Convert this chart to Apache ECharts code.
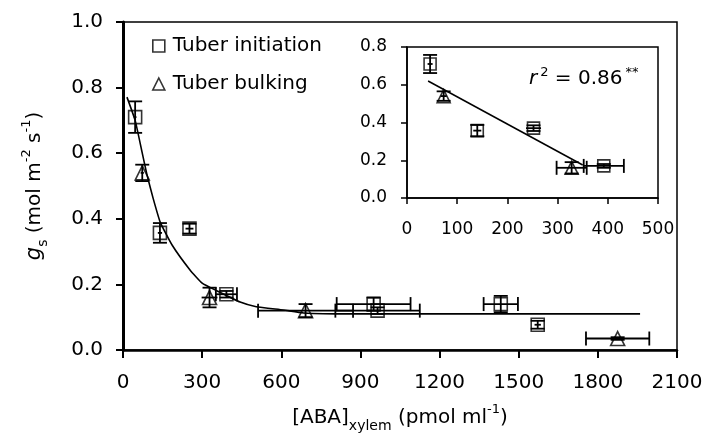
<!DOCTYPE html>
<html>
<head>
<meta charset="utf-8">
<script src="https://cdn.jsdelivr.net/npm/echarts@6/dist/echarts.min.js"></script>
<style>html,body{margin:0;padding:0;background:#fff;}#c{width:710px;height:443px;}</style>
</head>
<body>
<div id="c"></div>
<script>
// ---- data ----
const initX    = [46, 140, 252, 392, 950, 965, 1432, 1572];
const initY    = [0.71, 0.357, 0.37, 0.17, 0.14, 0.12, 0.14, 0.077];
const initXErr = [5, 8, 15, 40, 140, 160, 65, 12];
const initYErr = [0.048, 0.03, 0.015, 0.01, 0.02, 0.01, 0.025, 0.012];

const bulkX    = [73, 328, 692, 1875];
const bulkY    = [0.54, 0.16, 0.12, 0.035];
const bulkXErr = [6, 30, 180, 120];
const bulkYErr = [0.025, 0.03, 0.02, 0.004];

const fitX = [15, 46, 72, 91, 114, 141, 186, 254, 300, 357, 444, 505, 608, 684, 860, 1960];
const fitY = [0.771, 0.70, 0.604, 0.534, 0.463, 0.39, 0.32, 0.244, 0.204, 0.18, 0.146, 0.132, 0.122, 0.113, 0.11, 0.11];

const regX = [42, 350];
const regY = [0.62, 0.175];

const mainXTicks = [0, 300, 600, 900, 1200, 1500, 1800, 2100];
const mainYTicks = [0.0, 0.2, 0.4, 0.6, 0.8, 1.0];
const insetXTicks = [0, 100, 200, 300, 400, 500];
const insetYTicks = [0.0, 0.2, 0.4, 0.6, 0.8];
const insetMaxX = 500;

// ---- build ----
const FONT = 'DejaVu Sans';
function pts(xs, ys) { return xs.map((x, i) => [x, ys[i]]); }
function errPts(xs, ys, xe, ye, filt) {
  const out = [];
  xs.forEach((x, i) => { if (!filt || filt(x)) out.push([x, ys[i], xe[i], ye[i]]); });
  return out;
}
function errRender(params, api) {
  const x = api.value(0), y = api.value(1), xe = api.value(2), ye = api.value(3);
  const c = api.coord([x, y]);
  const yt = api.coord([x, y + ye]), yb = api.coord([x, y - ye]);
  const xl = api.coord([x - xe, y]), xr = api.coord([x + xe, y]);
  const cap = 7;
  const st = {stroke: '#000', lineWidth: 1.8};
  const ch = [
    {type: 'line', shape: {x1: c[0], y1: yt[1], x2: c[0], y2: yb[1]}, style: st},
    {type: 'line', shape: {x1: c[0] - cap, y1: yt[1], x2: c[0] + cap, y2: yt[1]}, style: st},
    {type: 'line', shape: {x1: c[0] - cap, y1: yb[1], x2: c[0] + cap, y2: yb[1]}, style: st},
    {type: 'line', shape: {x1: xl[0], y1: c[1], x2: xr[0], y2: c[1]}, style: st}
  ];
  if (xr[0] - xl[0] > 16) {
    ch.push({type: 'line', shape: {x1: xl[0], y1: c[1] - cap, x2: xl[0], y2: c[1] + cap}, style: st});
    ch.push({type: 'line', shape: {x1: xr[0], y1: c[1] - cap, x2: xr[0], y2: c[1] + cap}, style: st});
  }
  return {type: 'group', children: ch};
}
const hollow = {color: 'rgba(255,255,255,0)', borderColor: '#000', borderWidth: 1.6};
const inInset = x => x <= insetMaxX;
const plain = v => String(v);

const option = {
  animation: false,
  backgroundColor: '#fff',
  textStyle: {fontFamily: FONT},
  grid: [
    {left: 123, top: 22, width: 554, height: 328, show: true, borderColor: '#000', borderWidth: 1.5, backgroundColor: 'transparent'},
    {left: 407, top: 47, width: 251, height: 151, show: true, borderColor: '#000', borderWidth: 1.5, backgroundColor: '#fff', z: 5}
  ],
  xAxis: [
    {gridIndex: 0, type: 'value', min: mainXTicks[0], max: mainXTicks[mainXTicks.length - 1], interval: 300,
     splitLine: {show: false}, axisLine: {lineStyle: {color: '#000', width: 2.5}},
     axisTick: {inside: false, length: 8, lineStyle: {color: '#000', width: 2}},
     axisLabel: {color: '#000', fontSize: 20, fontFamily: FONT, margin: 23, formatter: plain},
     name: '{t|[ABA]}{sub|xylem}{t| (pmol ml}{sup|-1}{t|)}', nameLocation: 'middle', nameGap: 53,
     nameTextStyle: {color: '#000', fontFamily: FONT, rich: {
       t: {fontSize: 20, fontFamily: FONT, color: '#000', lineHeight: 30},
       sub: {fontSize: 14, fontFamily: FONT, color: '#000', verticalAlign: 'bottom', lineHeight: 14},
       sup: {fontSize: 13, fontFamily: FONT, color: '#000', verticalAlign: 'top', lineHeight: 13}
     }}},
    {gridIndex: 1, type: 'value', min: insetXTicks[0], max: insetXTicks[insetXTicks.length - 1], interval: 100,
     splitLine: {show: false}, axisLine: {lineStyle: {color: '#000', width: 1.5}},
     axisTick: {inside: false, length: 6, lineStyle: {color: '#000', width: 1.5}},
     axisLabel: {color: '#000', fontSize: 17, fontFamily: FONT, margin: 23, formatter: plain}, z: 6}
  ],
  yAxis: [
    {gridIndex: 0, type: 'value', min: mainYTicks[0], max: mainYTicks[mainYTicks.length - 1], interval: 0.2,
     splitLine: {show: false}, axisLine: {lineStyle: {color: '#000', width: 3}},
     axisTick: {inside: false, length: 7, lineStyle: {color: '#000', width: 2}},
     axisLabel: {color: '#000', fontSize: 20, fontFamily: FONT, margin: 20, formatter: v => v.toFixed(1)},
     name: '{i|g}{sub|s}{t| (mol m}{sup|-2}{t| s}{sup|-1}{t|)}', nameLocation: 'middle', nameGap: 73,
     nameTextStyle: {color: '#000', fontFamily: FONT, rich: {
       i: {fontSize: 21, fontFamily: FONT, fontStyle: 'italic', color: '#000', lineHeight: 30},
       t: {fontSize: 20, fontFamily: FONT, color: '#000', lineHeight: 30},
       sub: {fontSize: 14, fontFamily: FONT, color: '#000', verticalAlign: 'bottom', lineHeight: 14},
       sup: {fontSize: 13, fontFamily: FONT, color: '#000', verticalAlign: 'top', lineHeight: 13}
     }}},
    {gridIndex: 1, type: 'value', min: insetYTicks[0], max: insetYTicks[insetYTicks.length - 1], interval: 0.2,
     splitLine: {show: false}, axisLine: {lineStyle: {color: '#000', width: 1.5}},
     axisTick: {inside: false, length: 6, lineStyle: {color: '#000', width: 1.5}},
     axisLabel: {color: '#000', fontSize: 17, fontFamily: FONT, margin: 20, formatter: v => v.toFixed(1)}, z: 6}
  ],
  legend: {
    orient: 'vertical', left: 152, top: 36, padding: 0, itemGap: 18, itemWidth: 12, itemHeight: 12,
    textStyle: {color: '#000', fontSize: 20, fontFamily: FONT, padding: [0, 0, 0, 3]},
    data: [
      {name: 'Tuber initiation', icon: 'rect', itemStyle: hollow},
      {name: 'Tuber bulking', icon: 'triangle', itemStyle: hollow}
    ]
  },
  graphic: [{
    type: 'text', left: 529, top: 66, z: 20,
    style: {
      text: '{r|r}{s|2}{t| = 0.86}{s|**}',
      rich: {
        r: {fontSize: 20, fontFamily: FONT, fontStyle: 'italic', fill: '#000', lineHeight: 26},
        t: {fontSize: 20, fontFamily: FONT, fill: '#000', lineHeight: 26},
        s: {fontSize: 13, fontFamily: FONT, fill: '#000', verticalAlign: 'top', lineHeight: 13, padding: [0, 0, 0, 3]}
      }
    }
  }],
  series: [
    {name: 'fit', type: 'line', xAxisIndex: 0, yAxisIndex: 0, data: pts(fitX, fitY), smooth: 0.15,
     showSymbol: false, symbol: 'none', lineStyle: {color: '#000', width: 1.6}, z: 3},
    {name: 'initErr', type: 'custom', xAxisIndex: 0, yAxisIndex: 0, renderItem: errRender,
     encode: {x: 0, y: 1}, data: errPts(initX, initY, initXErr, initYErr), z: 3},
    {name: 'bulkErr', type: 'custom', xAxisIndex: 0, yAxisIndex: 0, renderItem: errRender,
     encode: {x: 0, y: 1}, data: errPts(bulkX, bulkY, bulkXErr, bulkYErr), z: 3},
    {name: 'Tuber initiation', type: 'scatter', xAxisIndex: 0, yAxisIndex: 0, data: pts(initX, initY),
     symbol: 'rect', symbolSize: 13, itemStyle: hollow, z: 4},
    {name: 'Tuber bulking', type: 'scatter', xAxisIndex: 0, yAxisIndex: 0, data: pts(bulkX, bulkY),
     symbol: 'triangle', symbolSize: 14, itemStyle: hollow, z: 4},
    // inset
    {name: 'reg', type: 'line', xAxisIndex: 1, yAxisIndex: 1, data: pts(regX, regY),
     showSymbol: false, symbol: 'none', lineStyle: {color: '#000', width: 1.5}, z: 7},
    {name: 'initErrIn', type: 'custom', xAxisIndex: 1, yAxisIndex: 1, renderItem: errRender,
     encode: {x: 0, y: 1}, data: errPts(initX, initY, initXErr, initYErr, inInset), z: 7},
    {name: 'bulkErrIn', type: 'custom', xAxisIndex: 1, yAxisIndex: 1, renderItem: errRender,
     encode: {x: 0, y: 1}, data: errPts(bulkX, bulkY, bulkXErr, bulkYErr, inInset), z: 7},
    {name: 'initIn', type: 'scatter', xAxisIndex: 1, yAxisIndex: 1,
     data: pts(initX, initY).filter(p => inInset(p[0])),
     symbol: 'rect', symbolSize: 12, itemStyle: hollow, z: 8},
    {name: 'bulkIn', type: 'scatter', xAxisIndex: 1, yAxisIndex: 1,
     data: pts(bulkX, bulkY).filter(p => inInset(p[0])),
     symbol: 'triangle', symbolSize: 13, itemStyle: hollow, z: 8}
  ]
};
const chart = echarts.init(document.getElementById('c'), null, {renderer: 'canvas'});
chart.setOption(option);
</script>
</body>
</html>
